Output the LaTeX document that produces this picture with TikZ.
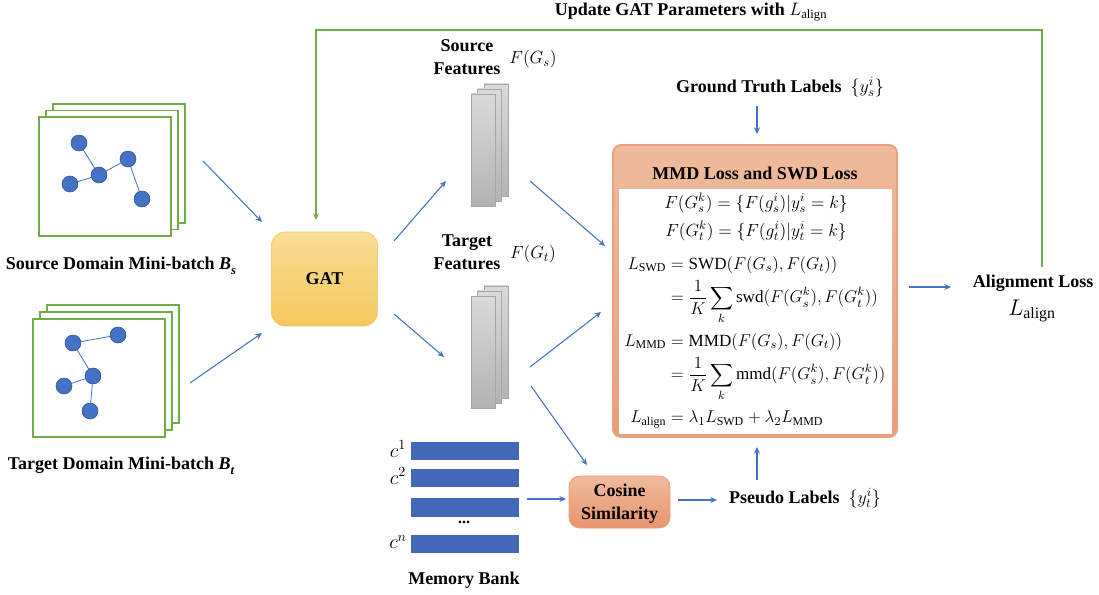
\documentclass[tikz,border=0pt]{standalone}
\usepackage{fix-cm}
\usepackage{amsmath}
\usepackage{fontspec}
\setmainfont{Liberation Serif}
\usetikzlibrary{arrows.meta}
\definecolor{arrblue}{HTML}{4472C4}
\definecolor{grn}{HTML}{70AD47}
\definecolor{nodeblue}{HTML}{4472C4}
\definecolor{nodeedge}{HTML}{2F528F}
\definecolor{barblue}{HTML}{4467B8}
\definecolor{gattop}{HTML}{F9DE95}
\definecolor{gatbot}{HTML}{F5C85C}
\definecolor{gatedge}{HTML}{F2CF78}
\definecolor{saltop}{HTML}{EFBB9D}
\definecolor{salbot}{HTML}{E8956B}
\definecolor{saledge}{HTML}{E9A07C}
\definecolor{graytop}{HTML}{DADADA}
\definecolor{graybot}{HTML}{B3B3B3}
\definecolor{grayedge}{HTML}{A6A6A6}
\newcommand{\boldit}[2]{{\bfseries\itshape #1\raisebox{-0.28em}{\fontsize{9.5}{10}\selectfont #2}}}
\tikzset{
  arr/.style={draw=arrblue, line width=0.8pt, -{Stealth[length=5pt,width=4.5pt]}},
  garr/.style={draw=grn, line width=1.1pt, -{Stealth[length=5pt,width=4.5pt]}},
  sq/.style={draw=grn, line width=0.9pt, fill=white},
  gnode/.style={circle, fill=nodeblue, draw=nodeedge, line width=0.4pt, minimum size=12pt, inner sep=0pt},
  gedge/.style={draw=nodeblue, line width=0.6pt},
  lbl/.style={font=\fontsize{13.5}{15}\selectfont\bfseries, inner sep=0pt},
  mathlbl/.style={font=\fontsize{13.2}{15}\selectfont, inner sep=0pt},
  featbar/.style={top color=graytop, bottom color=graybot, draw=grayedge, line width=0.4pt},
  membar/.style={fill=barblue, draw=white, line width=0.4pt},
}
\begin{document}
\begin{tikzpicture}[x=0.75pt, y=-0.75pt]
\useasboundingbox (0,0) rectangle (1099,595);

% ---------- source mini-batch stack
\foreach \d in {2,1,0} { \draw[sq] (39+7*\d,117-6.5*\d) rectangle +(132,119); }
\node[gnode] (s1) at (79,143) {};
\node[gnode] (s2) at (99,175) {};
\node[gnode] (s3) at (128,159) {};
\node[gnode] (s4) at (70,184) {};
\node[gnode] (s5) at (142,199) {};
\draw[gedge] (s1) -- (s2) (s2) -- (s3) (s2) -- (s4) (s3) -- (s5);
\node[lbl] (srclbl) at (121,266) {Source Domain Mini-batch \boldit{B}{s}};

% ---------- target mini-batch stack
\foreach \d in {2,1,0} { \draw[sq] (33+7*\d,319-7*\d) rectangle +(132,118); }
\node[gnode] (t1) at (73,343) {};
\node[gnode] (t2) at (118,335) {};
\node[gnode] (t3) at (93,376) {};
\node[gnode] (t4) at (64,386) {};
\node[gnode] (t5) at (90,411) {};
\draw[gedge] (t1) -- (t2) (t1) -- (t3) (t3) -- (t4) (t3) -- (t5);
\node[lbl] (tgtlbl) at (121,466) {Target Domain Mini-batch \boldit{B}{t}};

% ---------- GAT
\node[lbl, rounded corners=10pt, top color=gattop, bottom color=gatbot, draw=gatedge, line width=0.6pt,
      minimum width=79.5pt, minimum height=70.5pt] (gat) at (324.5,279) {GAT};

% ---------- source features
\foreach \d in {2,1,0} { \draw[featbar] (471+6.5*\d,94-5*\d) rectangle +(24,112); }
\node[lbl, align=center] (sflbl) at (467,57) {Source\\[2pt]Features};
\node[mathlbl] (sfm) at (533,59) {$F(G_s)$};

% ---------- target features
\foreach \d in {2,1,0} { \draw[featbar] (471+6.5*\d,296-5*\d) rectangle +(24,112); }
\node[lbl, align=center] (tflbl) at (467,252) {Target\\[2pt]Features};
\node[mathlbl] (tfm) at (533,254) {$F(G_t)$};

% ---------- memory bank
\draw[membar] (410,441) rectangle (519,460);
\draw[membar] (410,468) rectangle (519,487);
\draw[membar] (410,497) rectangle (519,517);
\draw[membar] (410,534) rectangle (519,553);
\node[font=\fontsize{15}{17}\selectfont, inner sep=0pt] (c1) at (398,449) {$c^1$};
\node[font=\fontsize{15}{17}\selectfont, inner sep=0pt] (c2) at (398,476) {$c^2$};
\node[font=\fontsize{15}{17}\selectfont, inner sep=0pt] (cn) at (398,542) {$c^n$};
\node[font=\fontsize{12}{12}\selectfont\bfseries, inner sep=0pt] (dots) at (464,522) {...};
\node[lbl] (memlbl) at (464,580) {Memory Bank};

% ---------- cosine similarity
\node[rounded corners=8pt, top color=saltop, bottom color=salbot, draw=saledge, line width=0.6pt,
      minimum width=75.75pt, minimum height=39pt] (cos) at (619.5,502) {};
\node[lbl, align=center] (coslbl) at (619.5,504) {Cosine\\[2pt]Similarity};

% ---------- main loss box
\node[rounded corners=6pt, top color=saltop, bottom color=saledge!90!salbot, draw=saledge, line width=1.4pt,
      minimum width=213pt, minimum height=219pt, inner sep=0pt] (loss) at (755,291) {};
\fill[white] (619,189) rectangle (892,434);
\node[lbl] (losstitle) at (755,173) {MMD Loss and SWD Loss};
\node[mathlbl] (e1) at (756,203) {$F(G_s^k)=\{F(g_s^i)|y_s^i=k\}$};
\node[mathlbl] (e2) at (756,231) {$F(G_t^k)=\{F(g_t^i)|y_t^i=k\}$};
\node[mathlbl, font=\fontsize{12.8}{15}\selectfont, anchor=west] (e3) at (624,342) {$\begin{aligned}
L_{\mathrm{SWD}} &= \mathrm{SWD}(F(G_s),F(G_t))\\[0pt]
 &= \frac{1}{K}\sum_k \mathrm{swd}(F(G_s^k),F(G_t^k))\\[2pt]
L_{\mathrm{MMD}} &= \mathrm{MMD}(F(G_s),F(G_t))\\[0pt]
 &= \frac{1}{K}\sum_k \mathrm{mmd}(F(G_s^k),F(G_t^k))\\[2pt]
L_{\mathrm{align}} &= \lambda_1 L_{\mathrm{SWD}}+\lambda_2 L_{\mathrm{MMD}}
\end{aligned}$};

% ---------- labels
\node[lbl] (gtlbl) at (780,87) {Ground Truth Labels \ $\{y_s^i\}$};
\node[lbl] (pslbl) at (805,498) {Pseudo Labels \ $\{y_t^i\}$};
\node[lbl] (allbl) at (1033,283) {Alignment Loss};
\node[font=\fontsize{17}{19}\selectfont, inner sep=0pt] (alm) at (1032,311) {$L_{\mathrm{align}}$};
\node[lbl] (title) at (691,12) {Update GAT Parameters with $L_{\mathrm{align}}$};

% ---------- connector endpoints
\coordinate (a1s) at (203,161); \coordinate (a1e) at (262,222);
\coordinate (a2s) at (190,383); \coordinate (a2e) at (262,333);
\coordinate (a3s) at (394,241); \coordinate (a3e) at (446,181);
\coordinate (a4s) at (394,314); \coordinate (a4e) at (444,357);
\coordinate (a5s) at (530,181); \coordinate (a5e) at (605,246);
\coordinate (a6s) at (530,367); \coordinate (a6e) at (601,312);
\coordinate (a7s) at (531,386); \coordinate (a7e) at (587,465);
\coordinate (a8s) at (527,499); \coordinate (a8e) at (566,499);
\coordinate (a9s) at (678,500); \coordinate (a9e) at (717,500);
\coordinate (a10s) at (757,480); \coordinate (a10e) at (757,447);
\coordinate (a11s) at (757,106); \coordinate (a11e) at (757,134);
\coordinate (a12s) at (909,287); \coordinate (a12e) at (951,287);
\coordinate (gs) at (1042,267); \coordinate (gc1) at (1042,30);
\coordinate (gc2) at (316,30); \coordinate (ge) at (316,220);

\draw[arr] (a1s) -- (a1e);
\draw[arr] (a2s) -- (a2e);
\draw[arr] (a3s) -- (a3e);
\draw[arr] (a4s) -- (a4e);
\draw[arr] (a5s) -- (a5e);
\draw[arr] (a6s) -- (a6e);
\draw[arr] (a7s) -- (a7e);
\draw[arr] (a8s) -- (a8e);
\draw[arr] (a9s) -- (a9e);
\draw[arr] (a10s) -- (a10e);
\draw[arr] (a11s) -- (a11e);
\draw[arr] (a12s) -- (a12e);
\draw[garr] (gs) -- (gc1) -- (gc2) -- (ge);
\end{tikzpicture}
\end{document}
